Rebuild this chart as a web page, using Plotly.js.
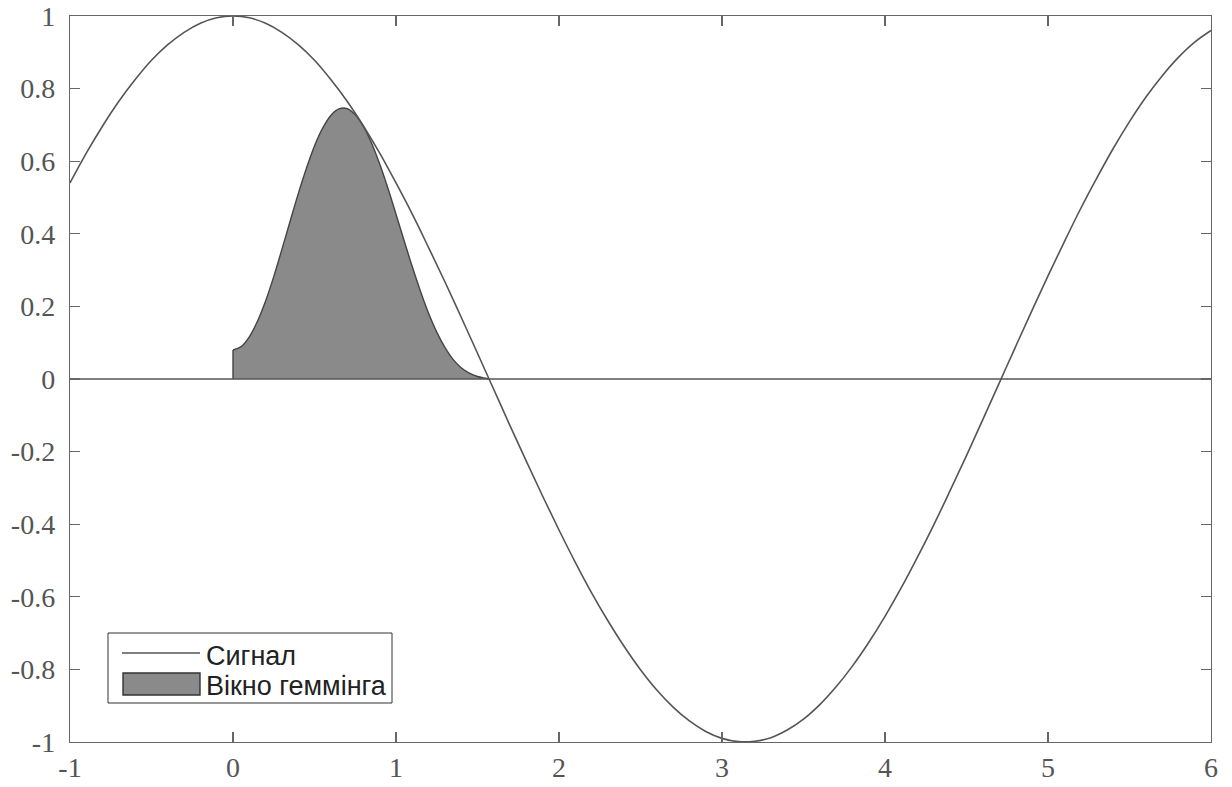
<!DOCTYPE html>
<html>
<head>
<meta charset="utf-8">
<script src="https://cdn.plot.ly/plotly-3.0.1.min.js"></script>
<style>html,body{margin:0;padding:0;background:#fff}#chart{width:1232px;height:787px}</style>
</head>
<body>
<div id="chart"></div>
<script>
// Signal
const signalX = [-1,-0.9,-0.8,-0.7,-0.6,-0.5,-0.4,-0.3,-0.2,-0.1,0,0.1,0.2,0.3,0.4,0.5,0.6,0.7,0.8,0.9,1,1.1,1.2,1.3,1.4,1.5,1.6,1.7,1.8,1.9,2,2.1,2.2,2.3,2.4,2.5,2.6,2.7,2.8,2.9,3,3.1,3.2,3.3,3.4,3.5,3.6,3.7,3.8,3.9,4,4.1,4.2,4.3,4.4,4.5,4.6,4.7,4.8,4.9,5,5.1,5.2,5.3,5.4,5.5,5.6,5.7,5.8,5.9,6];
const signalY = [0.540,0.622,0.697,0.765,0.825,0.878,0.921,0.955,0.980,0.995,1.0,0.995,0.980,0.955,0.921,0.878,0.825,0.765,0.697,0.622,0.540,0.454,0.362,0.268,0.170,0.071,-0.029,-0.129,-0.227,-0.323,-0.416,-0.505,-0.589,-0.666,-0.737,-0.801,-0.857,-0.904,-0.942,-0.971,-0.990,-0.999,-0.998,-0.988,-0.967,-0.937,-0.897,-0.848,-0.791,-0.726,-0.654,-0.575,-0.490,-0.401,-0.307,-0.211,-0.112,-0.012,0.088,0.187,0.284,0.378,0.469,0.554,0.635,0.709,0.776,0.835,0.886,0.928,0.960];
// Hamming window (filled shape)
const windowX = [0,0.05,0.1,0.15,0.2,0.25,0.3,0.35,0.4,0.45,0.5,0.55,0.6,0.65,0.7,0.75,0.8,0.85,0.9,0.95,1.0,1.05,1.1,1.15,1.2,1.25,1.3,1.35,1.4,1.45,1.5,1.55,1.5708];
const windowY = [0.08,0.089,0.116,0.159,0.215,0.282,0.357,0.434,0.510,0.580,0.642,0.691,0.726,0.744,0.745,0.728,0.696,0.650,0.592,0.526,0.454,0.381,0.309,0.242,0.181,0.129,0.087,0.054,0.031,0.016,0.007,0.002,0];
const windowEdgeX = [0,0];
const windowEdgeY = [0,0.08];
// Zero line
const zeroX = [-1,6];
const zeroY = [0,0];
const legendNames = ["Сигнал","Вікно геммінга"];
const xTicks = [-1,0,1,2,3,4,5,6];
const yTicks = [-1,-0.8,-0.6,-0.4,-0.2,0,0.2,0.4,0.6,0.8,1];

const lineCol = '#555';
const traces = [
  {x: windowX, y: windowY, mode:'lines', name: legendNames[1], fill:'tozeroy', fillcolor:'#8a8a8a', line:{color:'#444', width:1.4, shape:'spline', smoothing:1}, showlegend:false},
  {x: windowEdgeX, y: windowEdgeY, mode:'lines', line:{color:'#444', width:1.4}, showlegend:false},
  {x: zeroX, y: zeroY, mode:'lines', line:{color:lineCol, width:1.3}, showlegend:false},
  {x: signalX, y: signalY, mode:'lines', name: legendNames[0], line:{color:lineCol, width:1.6, shape:'spline', smoothing:1}, showlegend:false}
];

const axisCommon = {
  showgrid:false, zeroline:false, showline:true, linecolor:'#666', linewidth:1.2,
  mirror:'ticks', ticks:'inside', ticklen:10, tickwidth:1.2, tickcolor:'#666',
  tickfont:{family:'Liberation Serif, serif', size:28, color:'#555'}
};

// Custom legend box (paper pixel positions converted to paper fractions)
const W = 1232, H = 787, L = 70, R = 21, T = 16, B = 45;
const pw = W - L - R, ph = H - T - B;
const px = v => (v - L) / pw;
const py = v => (H - B - v) / ph;

const layout = {
  width:W, height:H,
  margin:{l:L, r:R, t:T, b:B},
  paper_bgcolor:'#fff', plot_bgcolor:'#fff',
  xaxis: Object.assign({}, axisCommon, {range:[-1,6], tickvals:xTicks, ticktext:xTicks.map(String), ticklabelstandoff:0}),
  yaxis: Object.assign({}, axisCommon, {range:[-1,1], tickvals:yTicks, ticktext:yTicks.map(String), ticklabelstandoff:8}),
  showlegend:false,
  shapes:[
    {type:'rect', xref:'paper', yref:'paper', x0:px(108), x1:px(392), y0:py(703), y1:py(633), line:{color:'#333', width:1}, fillcolor:'#fff', layer:'above'},
    {type:'line', xref:'paper', yref:'paper', x0:px(122), x1:px(200), y0:py(653), y1:py(653), line:{color:lineCol, width:1.4}, layer:'above'},
    {type:'rect', xref:'paper', yref:'paper', x0:px(123), x1:px(200), y0:py(695), y1:py(673), line:{color:'#333', width:1.4}, fillcolor:'#8a8a8a', layer:'above'}
  ],
  annotations:[
    {xref:'paper', yref:'paper', x:px(204), y:py(656), xanchor:'left', yanchor:'middle', showarrow:false, text:legendNames[0], font:{family:'Liberation Sans, Arial, sans-serif', size:27, color:'#222'}},
    {xref:'paper', yref:'paper', x:px(204), y:py(686), xanchor:'left', yanchor:'middle', showarrow:false, text:legendNames[1], font:{family:'Liberation Sans, Arial, sans-serif', size:27, color:'#222'}}
  ]
};

Plotly.newPlot('chart', traces, layout, {displayModeBar:false, staticPlot:true});
</script>
</body>
</html>
